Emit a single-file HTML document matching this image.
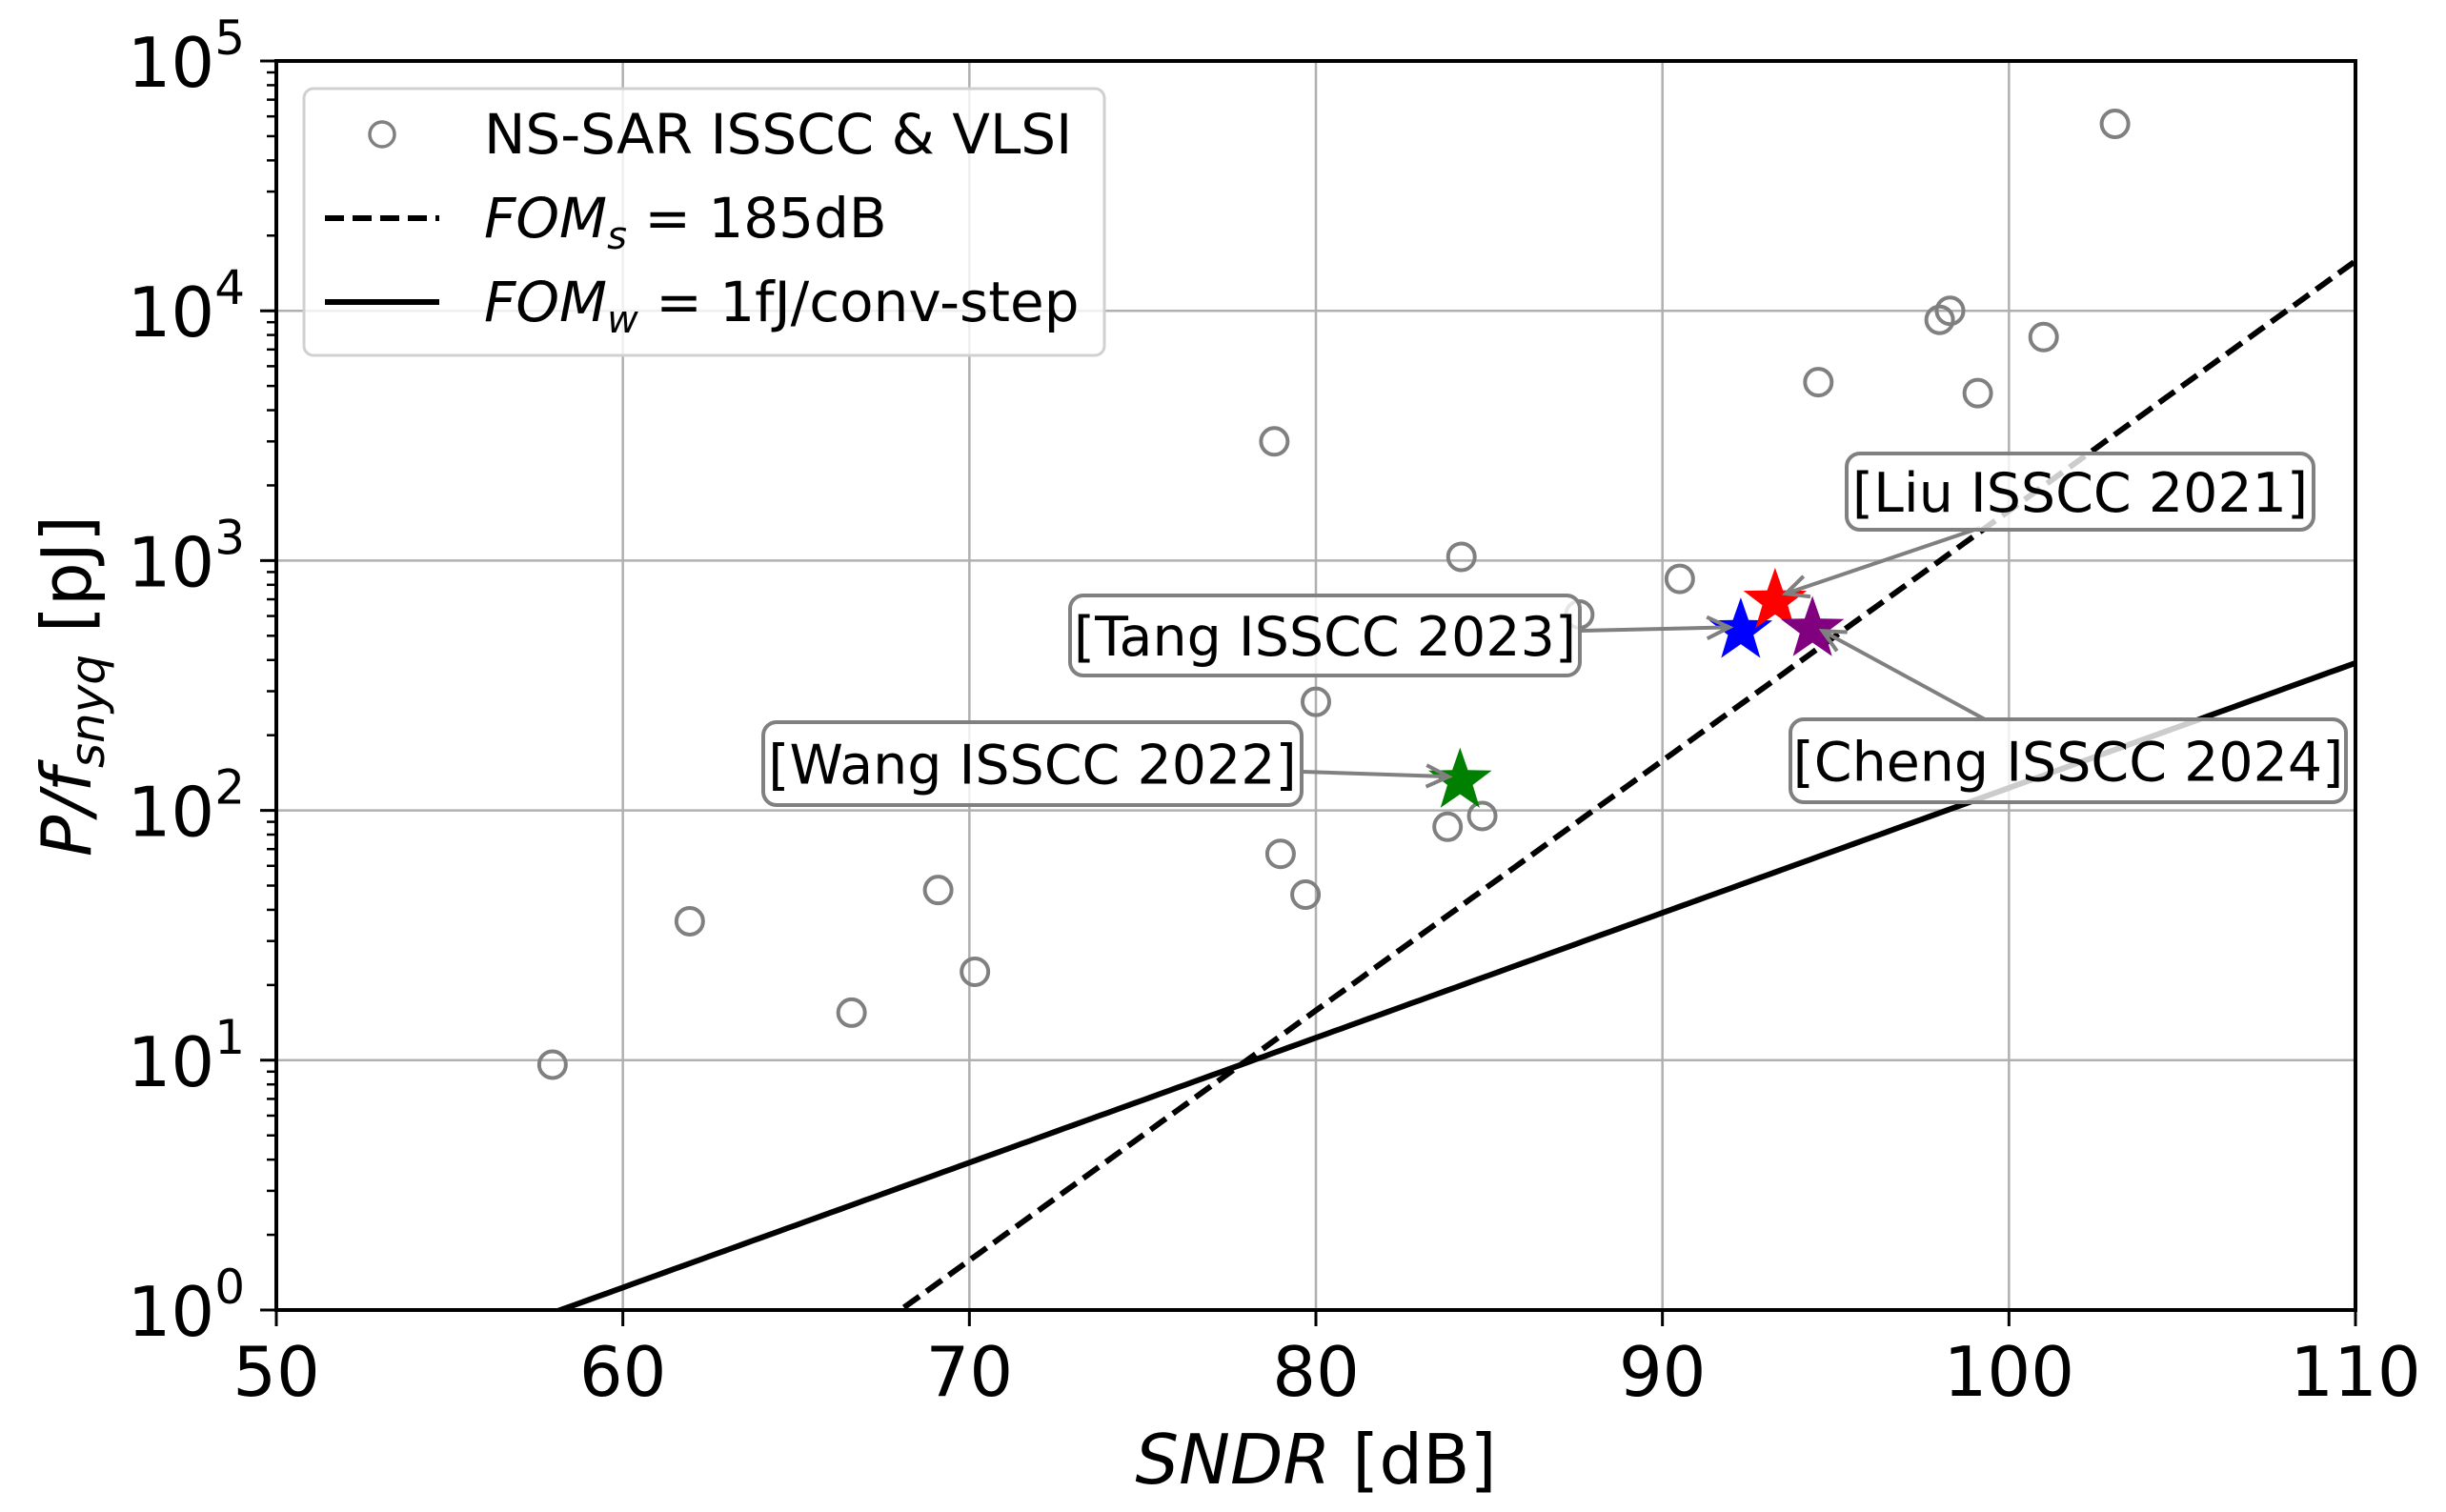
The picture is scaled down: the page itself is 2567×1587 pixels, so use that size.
<!DOCTYPE html>
<html><head><meta charset="utf-8"><style>
html,body{margin:0;padding:0;background:#fff;overflow:hidden;width:2567px;height:1587px;}
svg{display:block;font-family:"DejaVu Sans","Liberation Sans",sans-serif;}
</style></head><body>
<svg id="chart" width="2567" height="1587" viewBox="0 0 2567 1587" xmlns="http://www.w3.org/2000/svg">
<g id="grid"></g>
<g id="lines"></g>
<g id="points"></g>
<g id="annots"></g>
<g id="axes"></g>
<text x="1381" y="1557" font-size="72" text-anchor="middle"><tspan font-style="italic">SNDR</tspan> [dB]</text>
<text transform="translate(95,720) rotate(-90)" font-size="72" text-anchor="middle"><tspan font-style="italic">P/f</tspan><tspan font-style="italic" font-size="50" dy="14">snyq</tspan><tspan dy="-14"> [pJ]</tspan></text>
<g>
<rect x="319" y="93" width="840" height="280" rx="10" fill="#fff" fill-opacity="0.8" stroke="#d0d0d0" stroke-width="3"/>
<circle cx="401" cy="141" r="13" fill="none" stroke="#808080" stroke-width="3.5"/>
<text x="508" y="161" font-size="58">NS-SAR ISSCC &amp; VLSI</text>
<line x1="341" y1="229" x2="461" y2="229" stroke="#000" stroke-width="6" stroke-dasharray="20,9"/>
<text x="508" y="249" font-size="58"><tspan font-style="italic">FOM</tspan><tspan font-style="italic" font-size="40" dy="12">s</tspan><tspan dy="-12"> = 185dB</tspan></text>
<line x1="341" y1="317" x2="461" y2="317" stroke="#000" stroke-width="6"/>
<text x="508" y="337" font-size="58"><tspan font-style="italic">FOM</tspan><tspan font-style="italic" font-size="40" dy="12">w</tspan><tspan dy="-12"> = 1fJ/conv-step</tspan></text>
</g>
</svg>
<script>
const sndr = [57.97,61.93,66.6,69.1,70.16,78.8,78.98,79.7,80.0,83.8,84.2,84.8,87.6,90.5,94.5,98.0,98.3,99.1,101.0,103.06];
const energy = [9.6,36,15.5,48,22.6,3000,67,46,272,86,1035,95,608,845,5180,9200,10000,4680,7850,56000];
const starNames = ["wang","tang","liu","cheng"];
const starSndr = [84.16,92.26,93.25,94.33];
const starEnergy = [136,542,713,550];
const starColors = ["green","blue","red","purple"];
const xTicks = [50,60,70,80,90,100,110];
const yTickExp = [0,1,2,3,4,5];
const fomsDb = 185;
const fomwOffsetDb = 58.2;
const annLabels = ["[Wang ISSCC 2022]","[Tang ISSCC 2023]","[Liu ISSCC 2021]","[Cheng ISSCC 2024]"];

const L=290,R=2472,T=64,B=1375;
const X0=50,X1=110,Y0=0,Y1=5;
const xs=v=>L+(v-X0)/(X1-X0)*(R-L);
const ys=v=>B-(Math.log10(v)-Y0)/(Y1-Y0)*(B-T);
const NS="http://www.w3.org/2000/svg";
function mk(tag,attrs,parent){const e=document.createElementNS(NS,tag);for(const k in attrs)e.setAttribute(k,attrs[k]);parent.appendChild(e);return e;}
const grid=document.getElementById('grid'),axes=document.getElementById('axes'),lines=document.getElementById('lines'),pts=document.getElementById('points'),ann=document.getElementById('annots');

xTicks.forEach(t=>{
  const x=xs(t);
  const g=mk('line',{x1:x,y1:T,x2:x,y2:B,stroke:'#b0b0b0','stroke-width':2.5},grid);
  
  
  const tk=mk('line',{x1:x,y1:B,x2:x,y2:B+17,stroke:'#000','stroke-width':3},axes);
  
  
  const lb=mk('text',{x:x,y:B+90,'font-size':72,'text-anchor':'middle'},axes);
  lb.textContent=t;
  
  
});
yTickExp.forEach(e=>{
  const y=ys(Math.pow(10,e));
  const g=mk('line',{x1:L,y1:y,x2:R,y2:y,stroke:'#b0b0b0','stroke-width':2.5},grid);
  
  
  const tk=mk('line',{x1:L-17,y1:y,x2:L,y2:y,stroke:'#000','stroke-width':3},axes);
  
  
  const lb=mk('text',{x:L-33,y:y+27,'font-size':72,'text-anchor':'end'},axes);
  
  
  const t1=mk('tspan',{},lb);t1.textContent='10';
  const t2=mk('tspan',{'font-size':50,dy:-34},lb);t2.textContent=e;
  if(e<5){for(let m=2;m<=9;m++){const ym=ys(m*Math.pow(10,e));
    const mt=mk('line',{x1:L-10,y1:ym,x2:L,y2:ym,stroke:'#000','stroke-width':2.5},axes);
    
    }}
});
const sp=mk('rect',{x:L,y:T,width:R-L,height:B-T,fill:'none',stroke:'#000','stroke-width':4},axes);



const cp=mk('clipPath',{id:'clip'},lines);mk('rect',{x:L,y:T,width:R-L,height:B-T},cp);
function lineFn(f,name,dash){let d='';for(let s=X0;s<=X1+0.001;s+=0.25){d+=(d?'L':'M')+xs(s).toFixed(1)+','+ys(f(s)).toFixed(1);}
  const p=mk('path',{d:d,fill:'none',stroke:'#000','stroke-width':6,'clip-path':'url(#clip)'},lines);
  if(dash)p.setAttribute('stroke-dasharray',dash);
  
  }
lineFn(s=>Math.pow(10,(s-fomsDb)/10)/2*1e12,'foms-185db-line','20,9');
lineFn(s=>Math.pow(10,(s-fomwOffsetDb)/20),'fomw-1fj-line',null);

sndr.forEach((s,i)=>{
  const c=mk('circle',{cx:xs(s),cy:ys(energy[i]),r:14,fill:'none',stroke:'#808080','stroke-width':4},pts);
  
  
});
function starPath(cx,cy,r){let d='';for(let k=0;k<10;k++){const a=-Math.PI/2+k*Math.PI/5;const rr=k%2?r*0.4:r;d+=(k?'L':'M')+(cx+rr*Math.cos(a)).toFixed(1)+','+(cy+rr*Math.sin(a)).toFixed(1);}return d+'Z';}
const starPos=starSndr.map((s,i)=>[xs(s),ys(starEnergy[i])]);
starPos.forEach((p,i)=>{
  const st=mk('path',{d:starPath(p[0],p[1]+4,35),fill:starColors[i]},pts);
  
  
});
const boxes=[[801,758,565,87],[1123,625,535,84],[1938,476,490,80],[1879,755,583,87]];
const arrowStart=[[1367,810],[1659,662],[2078,554],[2083,755]];
boxes.forEach((b,i)=>{
  const g=mk('g',{},ann);
  
  
  const [sx,sy]=arrowStart[i];const [tx,ty]=starPos[i];
  const ang=Math.atan2(ty-sy,tx-sx),ex=tx-12*Math.cos(ang),ey=ty-12*Math.sin(ang);
  mk('line',{x1:sx,y1:sy,x2:ex,y2:ey,stroke:'#808080','stroke-width':4},g);
  const h=26;
  mk('path',{d:`M${ex-h*Math.cos(ang-0.45)},${ey-h*Math.sin(ang-0.45)}L${ex},${ey}L${ex-h*Math.cos(ang+0.45)},${ey-h*Math.sin(ang+0.45)}`,fill:'none',stroke:'#808080','stroke-width':4},g);
  mk('rect',{x:b[0],y:b[1],width:b[2],height:b[3],rx:14,fill:'#fff','fill-opacity':0.8,stroke:'#808080','stroke-width':4},g);
  const t=mk('text',{x:b[0]+b[2]/2,y:b[1]+b[3]/2+21,'font-size':57,'text-anchor':'middle'},g);
  t.textContent=annLabels[i];
});
</script>
</body></html>
